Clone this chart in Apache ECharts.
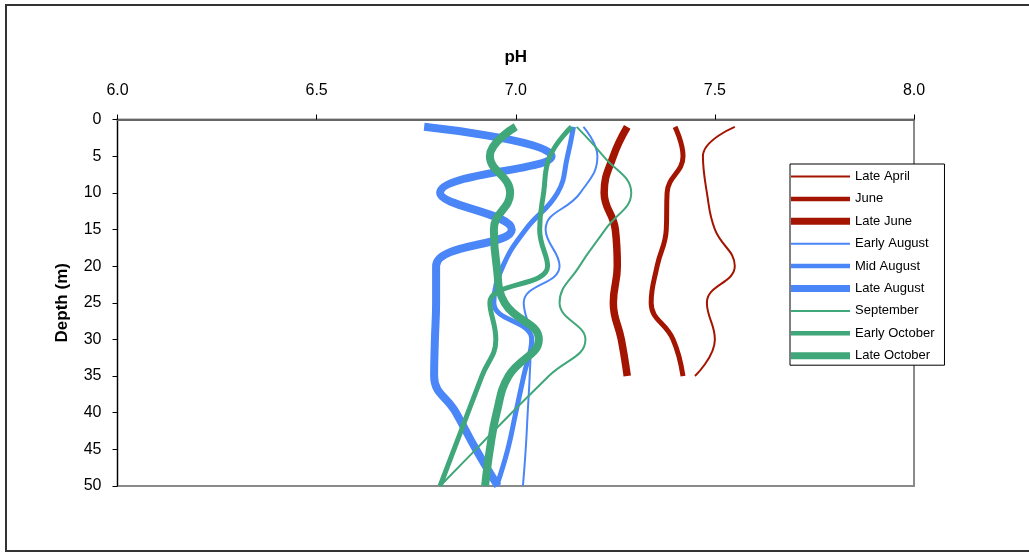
<!DOCTYPE html>
<html>
<head>
<meta charset="utf-8">
<script src="https://cdn.jsdelivr.net/npm/echarts@6/dist/echarts.min.js"></script>
<style>
html,body{margin:0;padding:0;background:#fff;}
#chart{width:1029px;height:552px;}
</style>
</head>
<body>
<div id="chart"></div>
<script>
// Depths (m)
var depthsSpring = [1, 5, 10, 15, 20, 25, 30, 35];
var depthsSummer = [1, 5, 10, 15, 20, 25, 30, 35, 40, 45, 50];

// pH values per sampling date
var lateApril   = [7.55, 7.47, 7.48, 7.50, 7.55, 7.48, 7.50, 7.45];
var june        = [7.40, 7.42, 7.38, 7.378, 7.355, 7.34, 7.395, 7.42];
var lateJune    = [7.28, 7.245, 7.222, 7.25, 7.255, 7.245, 7.265, 7.28];
var earlyAugust = [7.17, 7.205, 7.162, 7.075, 7.11, 7.02, 7.038, 7.035, 7.03, 7.025, 7.018];
var midAugust   = [7.145, 7.13, 7.105, 7.025, 6.968, 6.945, 7.04, 7.02, 7.00, 6.98, 6.952];
var lateAugust  = [6.77, 7.09, 6.81, 6.99, 6.80, 6.80, 6.797, 6.795, 6.85, 6.90, 6.955];
var september   = [7.153, 7.22, 7.29, 7.225, 7.16, 7.11, 7.175, 7.083, 6.99, 6.90, 6.81];
var earlyOctober= [7.14, 7.086, 7.07, 7.06, 7.08, 6.935, 6.95, 6.915, 6.88, 6.845, 6.81];
var lateOctober = [7.0, 6.935, 6.986, 6.945, 6.952, 6.972, 7.058, 6.982, 6.952, 6.935, 6.923];

var seriesNames = ['Late April','June','Late June','Early August','Mid August','Late August','September','Early October','Late October'];
var xTicks = ['6.0','6.5','7.0','7.5','8.0'];

var RED = '#A31500', BLUE = '#4A86F7', GREEN = '#3FA779';
var FONT = 'Liberation Sans, Arial, sans-serif';

function pairs(vals, depths){
  return vals.map(function(v,i){ return [v, depths[i]]; });
}
function mk(name, vals, depths, color, width){
  return {
    name: name, type: 'line', data: pairs(vals, depths),
    smooth: 0.45, symbol: 'none', showSymbol: false,
    lineStyle: {color: color, width: width, cap: 'butt'},
    itemStyle: {color: color},
    emphasis: {disabled: true}
  };
}
function barIcon(h){ return 'path://M0,0h59v' + h + 'h-59z'; }
var legendWidths = [2, 4.5, 7, 2, 4.5, 7, 2, 4.5, 7];

var chart = echarts.init(document.getElementById('chart'), null, {renderer:'canvas'});
chart.setOption({
  animation: false,
  backgroundColor: '#fff',
  textStyle: {fontFamily: FONT},
  graphic: [{
    type: 'rect', silent: true, z: -10,
    shape: {x: 6, y: 5, width: 1040, height: 546},
    style: {fill: 'none', stroke: '#333', lineWidth: 2}
  }],
  grid: {
    left: 117.5, top: 119.5, right: 115, bottom: 66,
    show: true, borderColor: '#8a8a8a', borderWidth: 2, backgroundColor: 'transparent'
  },
  legend: {
    orient: 'vertical', left: 790, top: 164,
    padding: [6, 10, 3, 1],
    borderColor: '#000', borderWidth: 1, backgroundColor: '#fff',
    itemWidth: 59, itemHeight: 14, itemGap: 9.4,
    symbolKeepAspect: true,
    itemStyle: {borderWidth: 0},
    lineStyle: {width: 0},
    textStyle: {fontSize: 13, color: '#000', fontFamily: FONT},
    data: seriesNames.map(function(n, i){ return {name: n, icon: barIcon(legendWidths[i])}; })
  },
  xAxis: {
    type: 'value', position: 'top', min: 6, max: 8, interval: 0.5,
    name: 'pH', nameLocation: 'middle', nameGap: 54,
    nameTextStyle: {fontSize: 17, fontWeight: 'bold', color: '#000', fontFamily: FONT},
    axisLine: {show: true, lineStyle: {color: '#666', width: 2}},
    axisTick: {show: true, inside: false, length: 5, lineStyle: {color: '#000', width: 1}},
    axisLabel: {
      fontSize: 16, color: '#000', margin: 21,
      formatter: function(v){ var i = Math.round((v-6)/0.5); return xTicks[i] !== undefined ? xTicks[i] : v.toFixed(1); }
    },
    splitLine: {show: false}
  },
  yAxis: {
    type: 'value', inverse: true, min: 0, max: 50, interval: 5,
    name: 'Depth (m)', nameLocation: 'middle', nameGap: 47, nameRotate: 90,
    nameTextStyle: {fontSize: 17, fontWeight: 'bold', color: '#000', fontFamily: FONT},
    axisLine: {show: true, lineStyle: {color: '#000', width: 1}},
    axisTick: {show: true, inside: false, length: 5, lineStyle: {color: '#000', width: 1}},
    axisLabel: {fontSize: 16, color: '#000', margin: 16},
    splitLine: {show: false}
  },
  series: [
    mk('Late April', lateApril, depthsSpring, RED, 2),
    mk('June', june, depthsSpring, RED, 5),
    mk('Late June', lateJune, depthsSpring, RED, 7.5),
    mk('Early August', earlyAugust, depthsSummer, BLUE, 2),
    mk('Mid August', midAugust, depthsSummer, BLUE, 5),
    mk('Late August', lateAugust, depthsSummer, BLUE, 8),
    mk('September', september, depthsSummer, GREEN, 2),
    mk('Early October', earlyOctober, depthsSummer, GREEN, 5),
    mk('Late October', lateOctober, depthsSummer, GREEN, 8)
  ]
});
</script>
</body>
</html>
